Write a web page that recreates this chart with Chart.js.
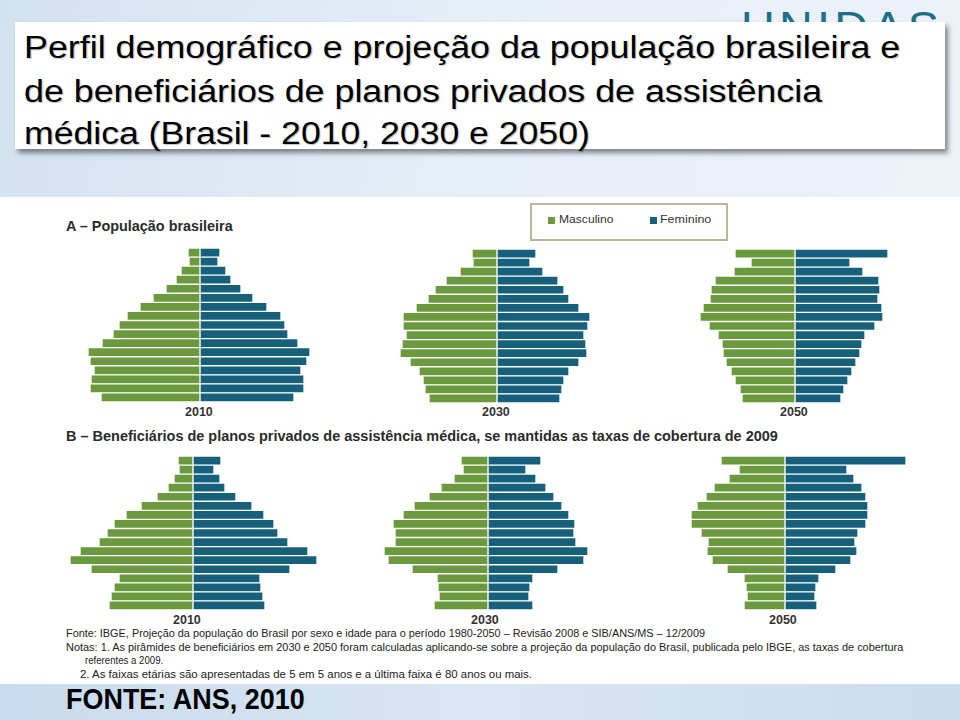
<!DOCTYPE html>
<html><head><meta charset="utf-8">
<script src="https://cdn.jsdelivr.net/npm/chart.js@4.4.1/dist/chart.umd.min.js"></script>
<style>
html,body{margin:0;padding:0;width:960px;height:720px;overflow:hidden;}
body{position:relative;background:linear-gradient(100deg,#d3e2f0 0%,#e6eef7 45%,#eef3f9 100%);font-family:"Liberation Sans",Arial,sans-serif;}
.abs{position:absolute;white-space:nowrap;transform-origin:0 50%;}
#logo{left:741px;top:3px;font:44px "Liberation Sans",Arial,sans-serif;color:#1b6f8a;letter-spacing:4px;}
#titlebox{position:absolute;left:15px;top:22px;width:930px;height:127px;background:#fff;box-shadow:3px 4px 5px rgba(0,0,0,0.45);}
.tl{font-size:31px;font-family:"Liberation Sans",Arial,sans-serif;color:#000;left:24px;line-height:40px;text-shadow:1px 1px 1px rgba(0,0,0,0.25);}
#img{position:absolute;left:0;top:197px;width:960px;height:487px;background:#fff;}
#bottom{position:absolute;left:0;top:684px;width:960px;height:36px;background:linear-gradient(90deg,#c9dbee 0%,#d9e6f3 50%,#cbdcee 100%);}
.sec{font:bold 15px "Liberation Sans",Arial,sans-serif;color:#2b2b2b;}
.yr{font:bold 12.5px "Liberation Sans",Arial,sans-serif;color:#333;transform-origin:50% 50%;}
.note{font:10.5px "Liberation Sans",Arial,sans-serif;color:#222;}
#legend{position:absolute;left:530px;top:203px;width:194px;height:34px;border:2px solid #bdb39f;background:#fff;}
.leg{font:11px "Liberation Sans",Arial,sans-serif;color:#333;}
.sq{position:absolute;width:7px;height:7px;}
canvas{position:absolute;}
#fonte{font:bold 30px "Liberation Sans",Arial,sans-serif;color:#000;line-height:30px;}
</style></head>
<body>
<div id="logo" class="abs">UNIDAS</div>
<div id="titlebox"></div>
<div class="abs tl" id="t1" style="top:28px">Perfil demográfico e projeção da população brasileira e</div>
<div class="abs tl" id="t2" style="top:72px">de beneficiários de planos privados de assistência</div>
<div class="abs tl" id="t3" style="top:114px">médica (Brasil - 2010, 2030 e 2050)</div>
<div id="img"></div>
<div id="bottom"></div>
<div id="legend"></div>
<div class="sq" style="left:548px;top:217px;background:#6a9a3d"></div>
<div class="abs leg" id="lm" style="left:559px;top:213px">Masculino</div>
<div class="sq" style="left:650px;top:217px;background:#17607c"></div>
<div class="abs leg" id="lf" style="left:660px;top:213px">Feminino</div>
<div class="abs sec" id="sa" style="left:66px;top:217px">A – População brasileira</div>
<div class="abs sec" id="sb" style="left:66px;top:427px">B – Beneficiários de planos privados de assistência médica, se mantidas as taxas de cobertura de 2009</div>
<div class="abs note" id="n1" style="left:66px;top:627px">Fonte: IBGE, Projeção da população do Brasil por sexo e idade para o período 1980-2050 – Revisão 2008 e SIB/ANS/MS – 12/2009</div>
<div class="abs note" id="n2" style="left:66px;top:641px">Notas: 1. As pirâmides de beneficiários em 2030 e 2050 foram calculadas aplicando-se sobre a projeção da população do Brasil, publicada pelo IBGE, as taxas de cobertura</div>
<div class="abs note" id="n3" style="left:85px;top:654px">referentes a 2009.</div>
<div class="abs note" id="n4" style="left:80px;top:668px">2. As faixas etárias são apresentadas de 5 em 5 anos e a última faixa é 80 anos ou mais.</div>
<div class="abs" id="fonte" style="left:66px;top:684px">FONTE: ANS, 2010</div>
<script>
// Age groups, top (oldest) to bottom (youngest)
const ageGroups = ["80+","75-79","70-74","65-69","60-64","55-59","50-54","45-49","40-44","35-39","30-34","25-29","20-24","15-19","10-14","5-9","0-4"];
const years = ["2010","2030","2050"];
// A – População brasileira (relative bar lengths)
const popMale2010   = [12,11,19,24,34,47,60,73,81,87,98,112,110,106,109,110,99];
const popFemale2010 = [20,18,26,31,41,53,67,81,85,88,98,110,107,101,104,104,94];
const popMale2030   = [25,24,37,51,62,69,81,94,94,91,95,97,87,78,74,72,68];
const popFemale2030 = [39,33,46,61,67,72,82,93,91,87,89,90,82,72,67,65,63];
const popMale2050   = [60,44,61,80,84,85,92,95,86,77,73,72,69,64,60,55,53];
const popFemale2050 = [93,55,68,84,85,83,87,88,80,70,67,65,61,57,53,49,46];
// B – Beneficiários de planos privados
const benMale2010   = [15,14,19,25,36,52,67,79,86,94,113,123,102,74,79,82,84];
const benFemale2010 = [28,21,27,32,43,59,71,81,85,95,115,124,97,67,68,70,72];
const benMale2030   = [27,25,34,47,59,74,85,95,93,93,104,100,76,51,50,49,54];
const benFemale2030 = [53,38,48,58,66,74,81,87,86,88,100,96,70,45,42,41,45];
const benMale2050   = [64,46,56,71,79,88,94,94,84,77,78,73,58,41,39,38,41];
const benFemale2050 = [121,62,69,77,81,83,83,81,73,70,72,66,51,34,31,30,32];

const GREEN = "#6a9a3d", BLUE = "#17607c";
const panels = [
  {m:popMale2010, f:popFemale2010, cx:200, top:248, year:years[0], yx:199, yy:412},
  {m:popMale2030, f:popFemale2030, cx:497, top:249, year:years[1], yx:496, yy:412},
  {m:popMale2050, f:popFemale2050, cx:795, top:249, year:years[2], yx:794, yy:412},
  {m:benMale2010, f:benFemale2010, cx:193, top:456, year:years[0], yx:187, yy:620},
  {m:benMale2030, f:benFemale2030, cx:488, top:456, year:years[1], yx:485, yy:620},
  {m:benMale2050, f:benFemale2050, cx:785, top:456, year:years[2], yx:783, yy:620}
];
const HALF = 130, H = 154;
panels.forEach(p => {
  const c = document.createElement("canvas");
  c.width = HALF*2; c.height = H;
  c.style.left = (p.cx - HALF) + "px"; c.style.top = p.top + "px";
  document.body.appendChild(c);
  new Chart(c.getContext("2d"), {
    type: "bar",
    data: {
      labels: ageGroups,
      datasets: [
        {label:"Masculino", data:p.m.map(v => -v), backgroundColor:GREEN},
        {label:"Feminino", data:p.f, backgroundColor:BLUE}
      ]
    },
    options: {
      indexAxis: "y", responsive: false, animation: false,
      layout: {padding: 0},
      datasets: {bar: {categoryPercentage: 1, barPercentage: 1, borderWidth: 1, borderColor: "#ffffff", borderSkipped: false}},
      scales: {
        x: {stacked: true, min: -HALF, max: HALF, display: false},
        y: {stacked: true, display: false}
      },
      plugins: {legend: {display: false}, tooltip: {enabled: false}}
    }
  });
  const y = document.createElement("div");
  y.className = "abs yr"; y.textContent = p.year;
  document.body.appendChild(y);
  y.style.left = (p.yx - y.offsetWidth/2) + "px";
  y.style.top = (p.yy - y.offsetHeight/2) + "px";
});
// fit text widths to the reference layout
function fit(id, w){const e=document.getElementById(id);const s=w/e.offsetWidth;e.style.transform="scaleX("+s+")";}
fit("t1",876); fit("t2",798); fit("t3",566);
fit("sa",167); fit("sb",712);
fit("n1",639); fit("n2",837); fit("n3",78); fit("n4",452);
fit("fonte",239); fit("lm",55); fit("lf",51); fit("logo",202);
</script>
</body></html>
